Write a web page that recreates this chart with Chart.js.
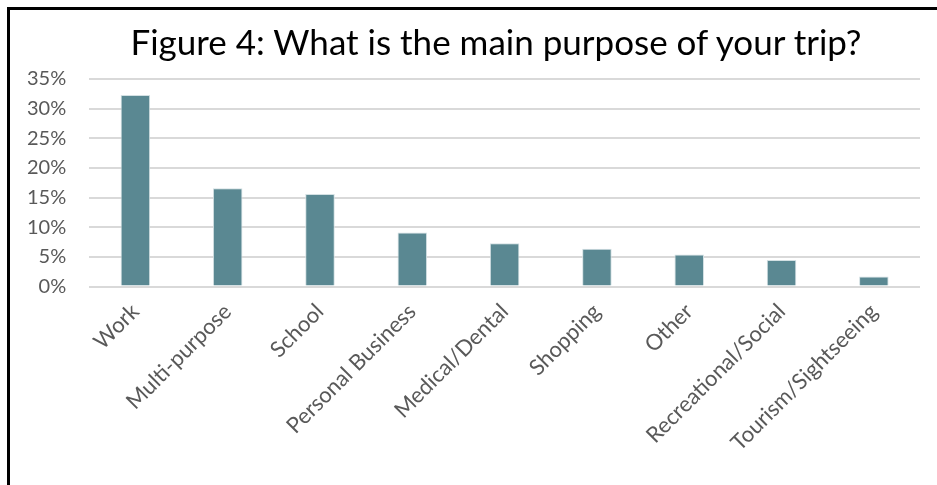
<!DOCTYPE html>
<html>
<head>
<meta charset="utf-8">
<script src="https://cdn.jsdelivr.net/npm/chart.js@4"></script>
<style>
html,body{margin:0;padding:0;background:#fff}
#wrap{position:relative;width:937px;height:485px;overflow:hidden}
#frame{position:absolute;left:7px;top:7px;width:940px;height:490px;border-top:3px solid #000;border-left:3px solid #000;pointer-events:none}
#title{position:absolute;left:0;top:19px;width:992px;text-align:center;font-family:Lato,'Open Sans',sans-serif;font-size:35px;color:#000;line-height:44px}
canvas{position:absolute;left:0;top:0}
</style>
</head>
<body>
<div id="wrap">
<canvas id="chart" width="937" height="485"></canvas>
<div id="title">Figure 4: What is the main purpose of your trip?</div>
<div id="frame"></div>
</div>
<script>
const purposes=["Work","Multi-purpose","School","Personal Business","Medical/Dental","Shopping","Other","Recreational/Social","Tourism/Sightseeing"]
const shares=[32.3,16.6,15.6,9.1,7.3,6.4,5.4,4.5,1.7]
const yTicks=[0,5,10,15,20,25,30,35]

const font="Lato, 'Open Sans', sans-serif"

new Chart(document.getElementById("chart"),{
type:'bar',
data:{
labels:purposes,
datasets:[{
data:shares,
backgroundColor:"#5a8892",
borderColor:"#d3e0e3",
borderWidth:1,
categoryPercentage:1,
barPercentage:0.32
}]
},
options:{
responsive:false,
animation:false,
layout:{padding:{left:4,right:17,top:79,bottom:25}},
plugins:{
legend:{display:false},
tooltip:{enabled:false},
title:{display:false}
},
scales:{
x:{
grid:{display:false},
border:{display:false},
ticks:{
color:"#595959",
font:{family:font,size:22},
minRotation:45,
maxRotation:45,
padding:4
}
},
y:{
min:0,
max:35,
afterBuildTicks:axis=>{axis.ticks=yTicks.map(v=>({value:v}))},
grid:{color:"#d9d9d9",lineWidth:2,drawTicks:false},
border:{display:false},
ticks:{
color:"#595959",
font:{family:font,size:20},
padding:23,
callback:v=>v+"%"
}
}
}
}
})
</script>
</body>
</html>
